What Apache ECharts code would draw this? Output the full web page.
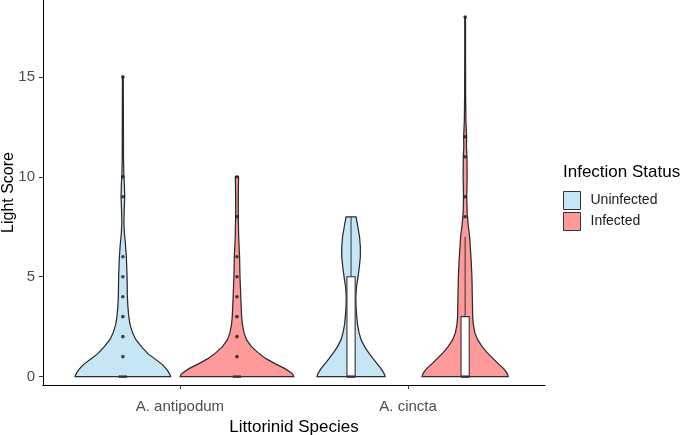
<!DOCTYPE html>
<html><head><meta charset="utf-8">
<script src="https://cdn.jsdelivr.net/npm/echarts@6/dist/echarts.min.js"></script>
<style>html,body{margin:0;padding:0;background:#fff}#c{width:685px;height:435px}</style>
</head><body><div id="c"></div>
<script>
const categories = ['A. antipodum', 'A. cincta'];
const statuses = ['Uninfected', 'Infected'];
const yTicks = [0, 5, 10, 15];

// violin outlines: [light score, relative density (% of widest violin)]
const violinAntipodumUninfected = [[0,83.7],[0.1,82.5],[0.2,80.7],[0.35,77.2],[0.6,69.3],[0.85,57.9],[1.15,43.9],[1.5,32.5],[1.85,22.8],[2.2,17],[2.6,12.6],[3,10.4],[3.5,8.8],[4,7.9],[5,7.4],[6,6.1],[6.6,4.6],[7.2,2.6],[7.7,1.8],[8.3,2.3],[9,3.2],[9.6,2.6],[10.2,1.6],[11,1.1],[12,1],[13.5,0.9],[15,0.7]];
const violinAntipodumInfected = [[0,99.5],[0.1,98.2],[0.2,94.7],[0.4,84.2],[0.65,66.7],[0.9,50.9],[1.2,36.8],[1.5,25.4],[1.85,16.7],[2.2,12.3],[2.6,9.6],[3,8.2],[4,6.7],[5,5.3],[6,4.6],[7,3],[8,2.3],[9,2.3],[10,2.8]];
const violinCinctaUninfected = [[0,59.6],[0.1,58.8],[0.2,57],[0.4,52.6],[0.65,45.6],[0.9,38.6],[1.2,30.7],[1.5,23.7],[1.85,17.5],[2.2,14],[2.6,11.4],[3,10],[3.5,8.8],[4,8.4],[4.5,9.6],[5,12.3],[5.5,14.6],[6,16.3],[6.5,16.3],[7,14.9],[7.5,11.9],[8,8.8]];
const violinCinctaInfected = [[0,75.4],[0.1,74.6],[0.2,72.8],[0.4,67.5],[0.65,57.9],[0.9,49.1],[1.2,38.6],[1.5,29.8],[1.85,21.9],[2.2,17],[2.6,14.4],[3,13.2],[4,12.6],[5,11.9],[6,10.2],[7,7.9],[7.6,5.3],[8.2,3.5],[9,2.8],[10,3.5],[11,3.2],[11.5,2.3],[12,2.6],[12.8,1.4],[14,0.9],[16,0.7],[18,0.7]];

// box stats: [lower whisker, q1, median, q3, upper whisker]
const boxAntipodumUninfected = [0, 0, 0, 0, 0];
const boxAntipodumInfected = [0, 0, 0, 0, 0];
const boxCinctaUninfected = [0, 0, 0, 5, 8];
const boxCinctaInfected = [0, 0, 0, 3, 7];

// outlier points
const outliersAntipodumUninfected = [1, 2, 3, 4, 5, 6, 9, 10, 15];
const outliersAntipodumInfected = [1, 2, 3, 4, 5, 6, 8, 10];
const outliersCinctaUninfected = [];
const outliersCinctaInfected = [8, 9, 11, 12, 18];

const colors = ['#c6e6f5', '#fe9a9a'];
const DODGE = [-0.25, 0.25];
const VIOLIN_HALF = 0.25;
const BOX_HALF = 0.018;
const FONT = 'Liberation Sans, Arial, sans-serif';

const violins = [[violinAntipodumUninfected, violinCinctaUninfected], [violinAntipodumInfected, violinCinctaInfected]];
const boxes = [[boxAntipodumUninfected, boxCinctaUninfected], [boxAntipodumInfected, boxCinctaInfected]];
const outliers = [[outliersAntipodumUninfected, outliersCinctaUninfected], [outliersAntipodumInfected, outliersCinctaInfected]];

function makeRender(s) {
  return function (params, api) {
    const cat = api.value(0);
    const i = params.dataIndex;
    const cx = cat + DODGE[s];
    const prof = violins[s][i];
    const right = prof.map(p => api.coord([cx + p[1] / 100 * VIOLIN_HALF, p[0]]));
    const left = prof.slice().reverse().map(p => api.coord([cx - p[1] / 100 * VIOLIN_HALF, p[0]]));
    const b = boxes[s][i];
    const pLo = api.coord([cx, b[0]]), pHi = api.coord([cx, b[4]]);
    const tl = api.coord([cx - BOX_HALF, b[3]]), br = api.coord([cx + BOX_HALF, b[1]]);
    const mL = api.coord([cx - BOX_HALF, b[2]]), mR = api.coord([cx + BOX_HALF, b[2]]);
    const q1 = api.coord([cx, b[1]]), q3 = api.coord([cx, b[3]]);
    return {
      type: 'group',
      children: [
        { type: 'polygon', shape: { points: right.concat(left) }, style: { fill: colors[s], stroke: '#2b2b2b', lineWidth: 1.25 } },
        { type: 'line', shape: { x1: q3[0], y1: q3[1], x2: pHi[0], y2: pHi[1] }, style: { stroke: '#333', lineWidth: 1 } },
        { type: 'line', shape: { x1: q1[0], y1: q1[1], x2: pLo[0], y2: pLo[1] }, style: { stroke: '#333', lineWidth: 1 } },
        { type: 'rect', shape: { x: tl[0], y: tl[1], width: br[0] - tl[0], height: br[1] - tl[1] }, style: { fill: '#fff', stroke: '#333', lineWidth: 1.1 } },
        { type: 'line', shape: { x1: mL[0], y1: mL[1], x2: mR[0], y2: mR[1] }, style: { stroke: '#333', lineWidth: 2.4 } }
      ]
    };
  };
}

const series = [];
statuses.forEach((name, s) => {
  series.push({
    name: name, type: 'custom', renderItem: makeRender(s),
    itemStyle: { color: colors[s], borderColor: '#333', borderWidth: 1 },
    data: categories.map((c, k) => [k + 1]), z: 2, silent: true
  });
});
statuses.forEach((name, s) => {
  const pts = [];
  categories.forEach((c, k) => outliers[s][k].forEach(v => pts.push([k + 1 + DODGE[s], v])));
  series.push({
    name: name + ' points', type: 'scatter', data: pts, symbolSize: 3.6,
    itemStyle: { color: '#1a1a1a' }, z: 5, silent: true
  });
});

const chart = echarts.init(document.getElementById('c'), null, { renderer: 'canvas' });
chart.setOption({
  animation: false,
  textStyle: { fontFamily: FONT },
  title: {
    text: 'Infection Status', left: 563, top: 164, padding: 0,
    textStyle: { fontSize: 17, fontWeight: 'normal', color: '#000', fontFamily: FONT }
  },
  legend: {
    data: statuses.map((n, s) => ({ name: n, icon: 'rect', itemStyle: { color: colors[s], borderColor: '#333', borderWidth: 1 } })),
    orient: 'vertical', left: 563, top: 191, padding: 0,
    itemWidth: 17, itemHeight: 18, itemGap: 2,
    textStyle: { fontSize: 14, color: '#1a1a1a', padding: [0, 0, 0, 5] }
  },
  grid: { left: 43, right: 140, top: 0, bottom: 50, containLabel: false, outerBoundsMode: 'none' },
  xAxis: {
    type: 'value', min: 0.4, max: 2.6,
    axisLine: { show: true, onZero: false, lineStyle: { color: '#000', width: 1 } },
    axisTick: { show: true, customValues: [1, 2], length: 4, lineStyle: { color: '#333' } },
    axisLabel: { customValues: [1, 2], formatter: v => categories[Math.round(v) - 1], fontSize: 15, color: '#4d4d4d', margin: 14 },
    splitLine: { show: false },
    name: 'Littorinid Species', nameLocation: 'middle', nameGap: 34, nameMoveOverlap: false,
    nameTextStyle: { fontSize: 17, color: '#000' }
  },
  yAxis: {
    type: 'value', min: -0.42, max: 18.85,
    axisLine: { show: true, onZero: false, lineStyle: { color: '#000', width: 1 } },
    axisTick: { show: true, customValues: yTicks, length: 4, lineStyle: { color: '#333' } },
    axisLabel: { customValues: yTicks, fontSize: 15, color: '#4d4d4d', margin: 8 },
    splitLine: { show: false },
    name: 'Light Score', nameLocation: 'middle', nameGap: 26, nameRotate: 90, nameMoveOverlap: false,
    nameTextStyle: { fontSize: 16, color: '#000' }
  },
  series: series
});
</script></body></html>
